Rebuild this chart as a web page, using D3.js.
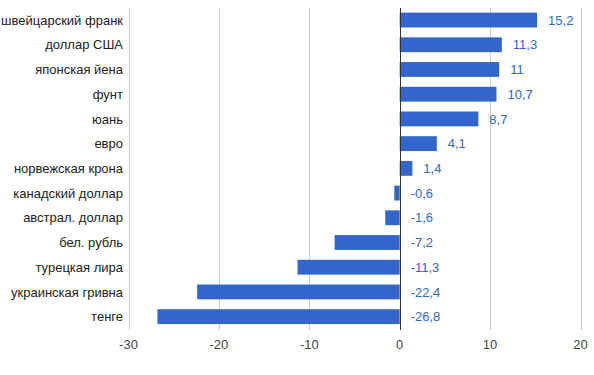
<!DOCTYPE html>
<html><head><meta charset="utf-8">
<script src="https://cdn.jsdelivr.net/npm/d3@7"></script>
<style>body{margin:0;background:#fff;}svg{display:block;font-family:"Liberation Sans",Arial,sans-serif;}</style>
</head><body>
<svg id="c" width="594" height="375"></svg>
<script>
const categories = ["швейцарский франк","доллар США","японская йена","фунт","юань","евро","норвежская крона","канадский доллар","австрал. доллар","бел. рубль","турецкая лира","украинская гривна","тенге"];
const values = [15.2, 11.3, 11, 10.7, 8.7, 4.1, 1.4, -0.6, -1.6, -7.2, -11.3, -22.4, -26.8];
const ticks = [-30, -20, -10, 0, 10, 20];

const svg = d3.select("#c");
const x = d3.scaleLinear().domain([-30, 20]).range([128.5, 580.5]);
const y = d3.scaleBand().domain(categories).range([7.7, 329]).paddingInner(0.4).paddingOuter(0.2);
const fmt = v => String(v).replace(".", ",");

// gridlines
svg.append("g").selectAll("line").data(ticks.filter(t => t !== 0)).join("line")
  .attr("x1", d => Math.round(x(d)) + 0.5).attr("x2", d => Math.round(x(d)) + 0.5)
  .attr("y1", 8).attr("y2", 330).attr("stroke", "#cccccc").attr("stroke-width", 1);

// bars
svg.append("g").selectAll("rect").data(values).join("rect")
  .attr("x", d => x(Math.min(0, d)))
  .attr("width", d => Math.abs(x(d) - x(0)))
  .attr("y", (d, i) => y(categories[i]))
  .attr("height", y.bandwidth())
  .attr("fill", "#3366cc");

// zero line
svg.append("line").attr("x1", Math.round(x(0)) + 0.5).attr("x2", Math.round(x(0)) + 0.5)
  .attr("y1", 8).attr("y2", 330).attr("stroke", "#333333").attr("stroke-width", 1);

// value labels
svg.append("g").selectAll("text").data(values).join("text")
  .attr("x", d => x(Math.max(0, d)) + 11)
  .attr("y", (d, i) => y(categories[i]) + y.bandwidth() / 2)
  .attr("dy", "0.36em")
  .attr("font-size", 13).attr("fill", "#3366cc")
  .text(d => fmt(d));

// category labels
svg.append("g").selectAll("text").data(categories).join("text")
  .attr("x", 123)
  .attr("y", d => y(d) + y.bandwidth() / 2)
  .attr("dy", "0.36em")
  .attr("text-anchor", "end")
  .attr("font-size", 13).attr("fill", "#222222")
  .text(d => d);

// x axis tick labels
svg.append("g").selectAll("text").data(ticks).join("text")
  .attr("x", d => x(d))
  .attr("y", 349)
  .attr("text-anchor", "middle")
  .attr("font-size", 13).attr("fill", "#444444")
  .text(d => d);
</script>
</body></html>
